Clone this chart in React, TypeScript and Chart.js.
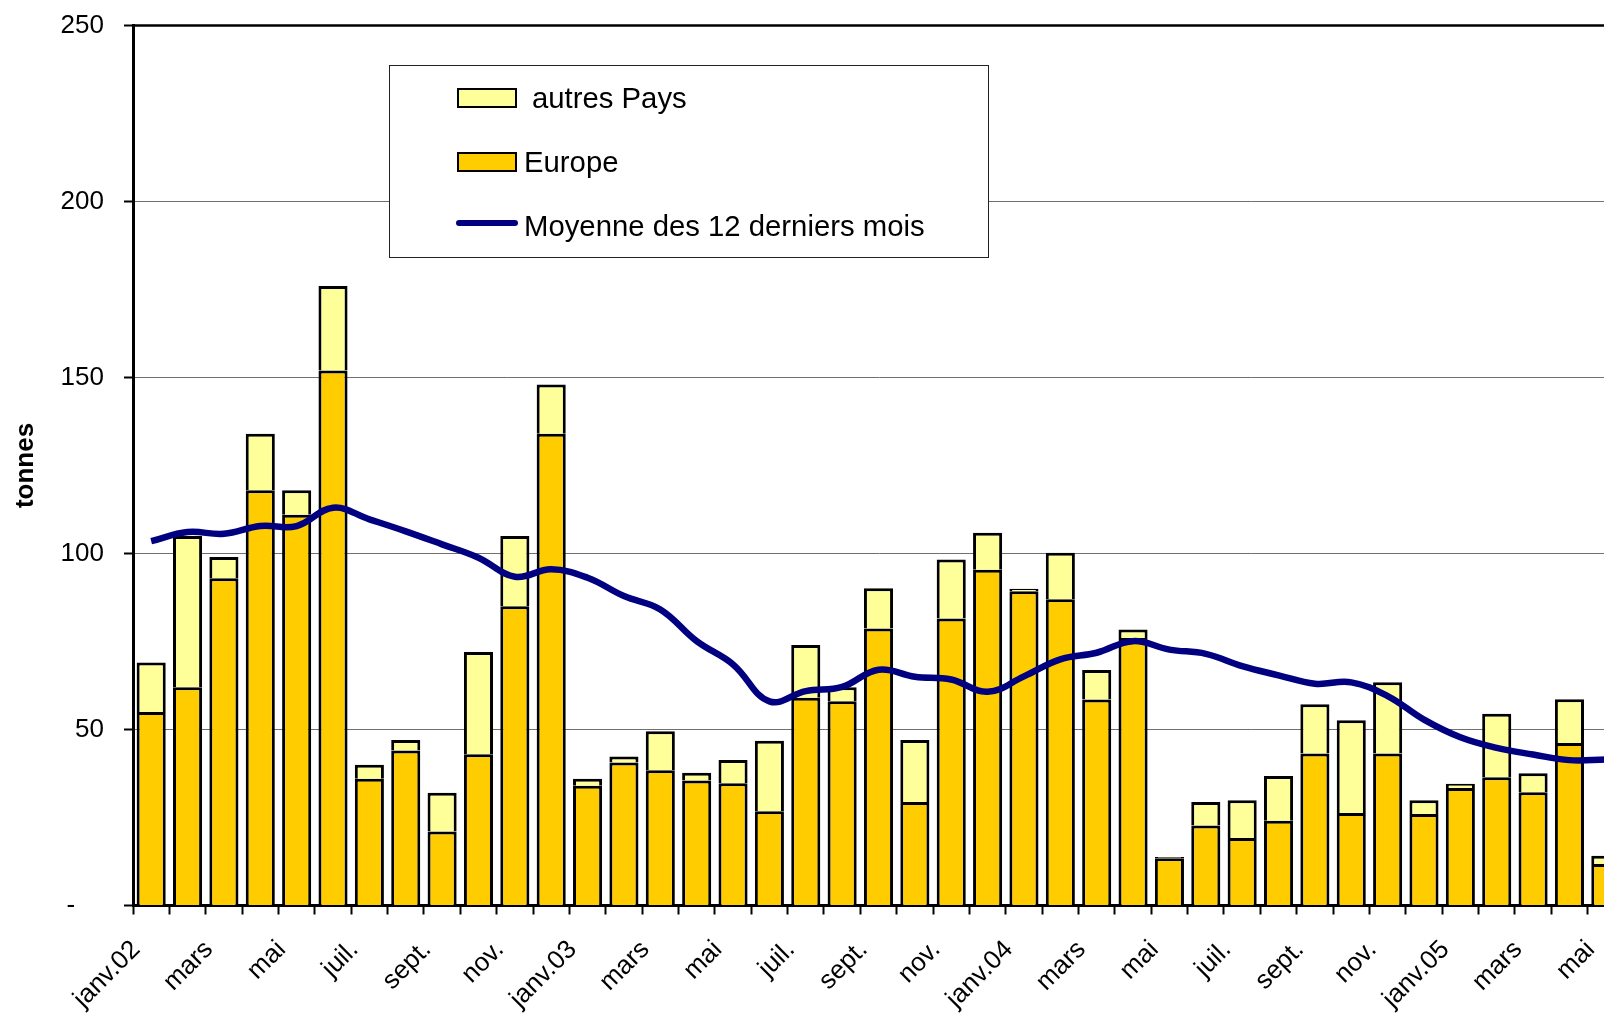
import { useEffect, useRef } from 'react';
import { Chart, registerables } from 'chart.js';

Chart.register(...registerables);

const months = [
  'janv.02', 'févr.', 'mars', 'avr.', 'mai', 'juin', 'juil.', 'août', 'sept.', 'oct.', 'nov.', 'déc.',
  'janv.03', 'févr.', 'mars', 'avr.', 'mai', 'juin', 'juil.', 'août', 'sept.', 'oct.', 'nov.', 'déc.',
  'janv.04', 'févr.', 'mars', 'avr.', 'mai', 'juin', 'juil.', 'août', 'sept.', 'oct.', 'nov.', 'déc.',
  'janv.05', 'févr.', 'mars', 'avr.', 'mai',
];

const europe = [
  55, 62, 93, 118, 111, 152, 36, 44, 21, 43, 85, 134,
  34, 40.6, 38.4, 35.5, 34.7, 26.8, 59, 58, 78.7, 29.4, 81.5, 95.4,
  89.3, 87, 58.5, 76, 13.4, 22.7, 19.2, 24.1, 43.2, 26.3, 43.2, 26,
  33.4, 36.4, 32.2, 46.2, 11.8,
];

const autresPays = [
  14, 43, 6, 16, 7, 24, 4, 3, 11, 29, 20, 14,
  2, 1.7, 11.1, 2.2, 6.6, 20, 15, 4, 11.4, 17.6, 16.8, 10.5,
  0.7, 13.2, 8.4, 2.4, 0.4, 6.7, 10.7, 12.7, 14, 26.3, 20.2, 3.9,
  1.2, 18.1, 5.4, 12.4, 2.3,
];

const moyenne12 = [
  103.5, 106.1, 105.6, 107.8, 107.8, 113.0, 109.7, 106.3, 102.6, 98.8, 93.4, 95.5,
  93.1, 87.9, 84.1, 75.1, 68.5, 58.0, 60.9, 62.1, 67.0, 65.0, 64.2, 60.7,
  65.1, 69.9, 71.8, 75.1, 72.7, 71.5, 68.0, 65.4, 63.0, 63.4, 59.5, 52.8,
  47.8, 44.8, 42.9, 41.3, 41.5,
];

const seriesLabels = ['autres Pays', 'Europe', 'Moyenne des 12 derniers mois'];

const FONT = '"Liberation Sans", Arial, Helvetica, sans-serif';

const framePlugin = {
  id: 'frameAndLegend',
  afterDraw(chart: any) {
    const ctx = chart.ctx;
    const area = chart.chartArea;
    ctx.save();
    // top border of plot area
    ctx.strokeStyle = '#000';
    ctx.lineWidth = 2.5;
    ctx.beginPath();
    ctx.moveTo(area.left, area.top);
    ctx.lineTo(area.right, area.top);
    ctx.stroke();

    // legend box
    ctx.fillStyle = '#fff';
    ctx.fillRect(389, 65, 599, 192);
    ctx.strokeStyle = '#222';
    ctx.lineWidth = 1;
    ctx.strokeRect(389.5, 65.5, 599, 192);

    // swatches
    ctx.lineWidth = 2;
    ctx.strokeStyle = '#000';
    ctx.fillStyle = '#FFFF99';
    ctx.fillRect(458, 89, 58, 18);
    ctx.strokeRect(458, 89, 58, 18);
    ctx.fillStyle = '#FFCC00';
    ctx.fillRect(458, 153, 58, 18);
    ctx.strokeRect(458, 153, 58, 18);

    ctx.strokeStyle = '#000080';
    ctx.lineWidth = 6;
    ctx.lineCap = 'round';
    ctx.beginPath();
    ctx.moveTo(459, 223);
    ctx.lineTo(515, 223);
    ctx.stroke();

    ctx.fillStyle = '#000';
    ctx.font = `29.3px ${FONT}`;
    ctx.textBaseline = 'alphabetic';
    ctx.textAlign = 'left';
    ctx.fillText(seriesLabels[0], 532, 108);
    ctx.fillText(seriesLabels[1], 524, 172);
    ctx.fillText(seriesLabels[2], 524, 236);
    ctx.restore();
  },
};

export default function App() {
  const ref = useRef<HTMLCanvasElement>(null);

  useEffect(() => {
    if (!ref.current) return;
    const chart = new Chart(ref.current, {
      type: 'bar',
      data: {
        labels: months,
        datasets: [
          {
            type: 'line',
            label: seriesLabels[2],
            data: moyenne12,
            borderColor: '#000080',
            borderWidth: 6.5,
            pointRadius: 0,
            tension: 0.4,
            fill: false,
            stack: 'avg',
            order: 0,
          } as any,
          {
            type: 'bar',
            label: seriesLabels[1],
            data: europe,
            backgroundColor: '#FFCC00',
            borderColor: '#000',
            borderWidth: { top: 3, left: 3, right: 3, bottom: 0 },
            borderSkipped: false,
            barPercentage: 0.8,
            categoryPercentage: 1,
            stack: 'bars',
            order: 1,
          } as any,
          {
            type: 'bar',
            label: seriesLabels[0],
            data: autresPays,
            backgroundColor: '#FFFF99',
            borderColor: '#000',
            borderWidth: { top: 3, left: 3, right: 3, bottom: 0 },
            borderSkipped: false,
            barPercentage: 0.8,
            categoryPercentage: 1,
            stack: 'bars',
            order: 1,
          } as any,
        ],
      },
      options: {
        responsive: false,
        devicePixelRatio: 1,
        animation: false,
        layout: { padding: { top: 25.5, right: 16, bottom: 0, left: 0 } },
        plugins: {
          legend: { display: false },
          tooltip: { enabled: false },
        },
        scales: {
          x: {
            stacked: true,
            offset: true,
            afterFit: (s: any) => {
              s.height = 108.5;
              s.paddingTop = 0;
              s.paddingBottom = 0;
              s.paddingLeft = 0;
              s.paddingRight = 0;
            },
            grid: {
              offset: true,
              drawOnChartArea: false,
              drawTicks: true,
              tickLength: 9,
              tickColor: '#000',
              tickWidth: 2,
            },
            border: { display: true, color: '#000', width: 3 },
            ticks: {
              autoSkip: false,
              maxRotation: 45,
              minRotation: 45,
              color: '#000',
              padding: 20,
              labelOffset: -15,
              font: { family: FONT, size: 26 },
              callback: (_v: any, i: number) => (i % 2 === 0 ? months[i] : ''),
            },
          },
          y: {
            stacked: true,
            min: 0,
            max: 250,
            afterFit: (s: any) => {
              s.width = 133;
              s.paddingTop = 0;
              s.paddingBottom = 0;
            },
            grid: {
              color: '#707070',
              lineWidth: 1,
              drawTicks: true,
              tickLength: 9,
              tickColor: '#000',
              tickWidth: 2,
            },
            border: { display: true, color: '#000', width: 3 },
            title: {
              display: true,
              text: 'tonnes',
              color: '#000',
              font: { family: FONT, size: 26, weight: 'bold' },
              padding: { top: 10, bottom: 0 },
            },
            ticks: {
              stepSize: 50,
              color: '#000',
              padding: 20,
              font: { family: FONT, size: 26 },
              callback: (v: any) => (Number(v) === 0 ? '-    ' : String(v)),
            },
          },
        },
      },
      plugins: [framePlugin],
    });
    return () => chart.destroy();
  }, []);

  return (
    <div
      style={{
        position: 'fixed',
        left: 0,
        top: 0,
        width: 1604,
        height: 1014,
        overflow: 'hidden',
        background: '#fff',
      }}
    >
      <canvas ref={ref} width={1640} height={1014} style={{ display: 'block', width: 1640, height: 1014 }} />
    </div>
  );
}
